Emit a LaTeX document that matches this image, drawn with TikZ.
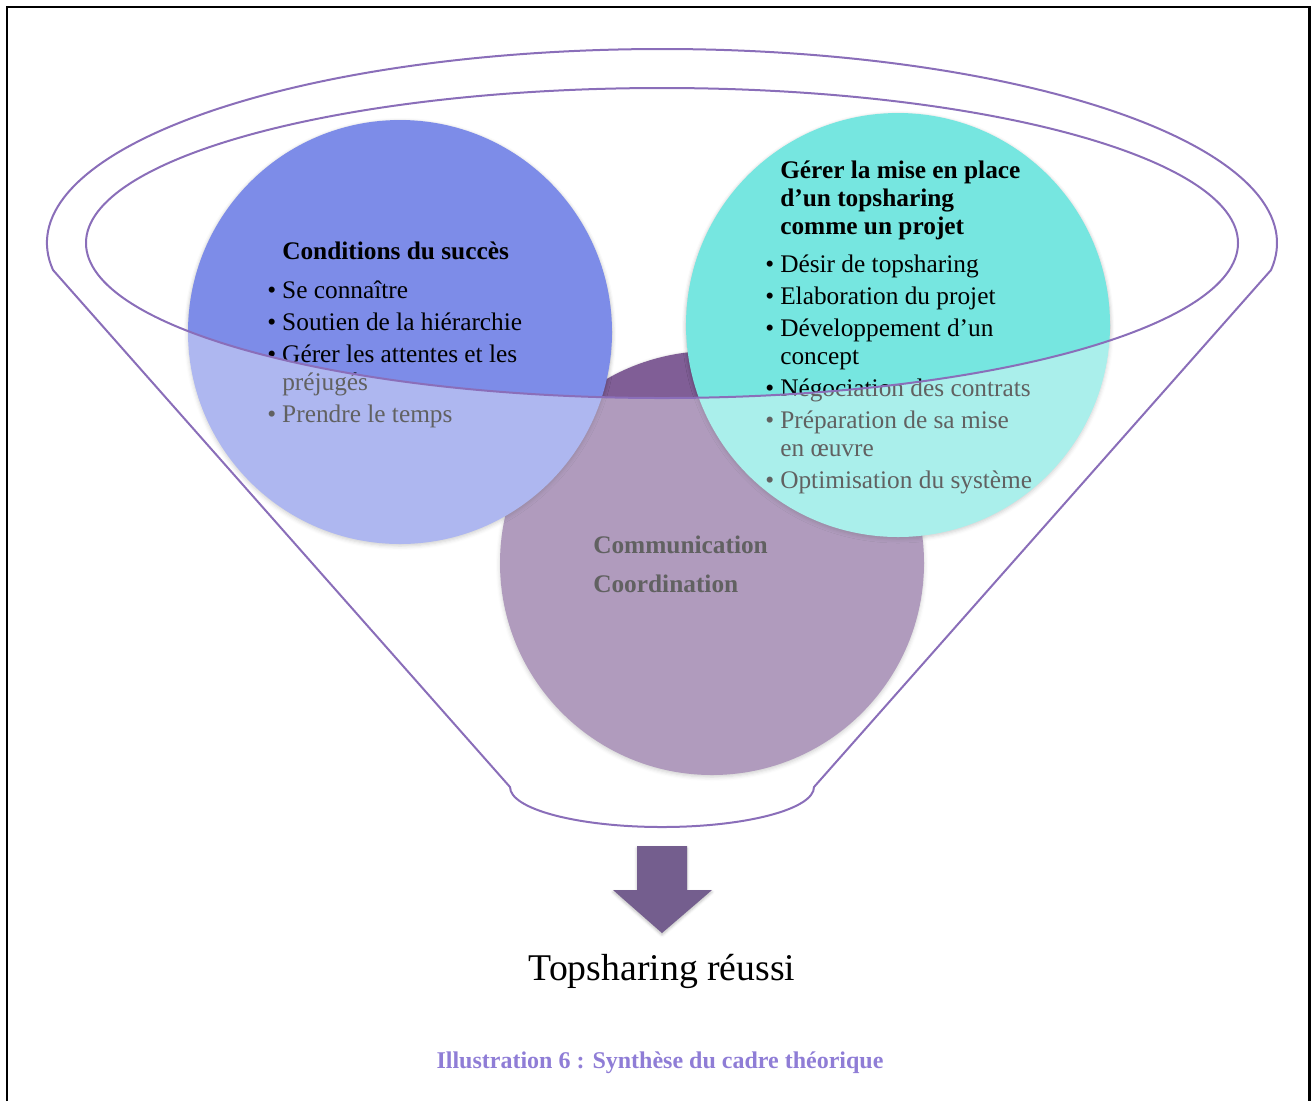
\documentclass[tikz,border=0pt]{standalone}
\usepackage{fontspec}
\setmainfont{Liberation Serif}
\usetikzlibrary{shadows.blur}

\definecolor{succesblue}{RGB}{125,140,232}
\definecolor{projetteal}{RGB}{118,230,224}
\definecolor{commpurple}{RGB}{128,94,150}
\definecolor{rimline}{RGB}{138,110,185}
\definecolor{arrowpurple}{RGB}{116,94,142}
\definecolor{captionlav}{RGB}{143,125,214}

\newcommand{\puce}{\llap{\textbullet\hspace{4.5pt}}}

\begin{document}
\begin{tikzpicture}[x=0.75pt, y=-0.75pt,
  bubble/.style={blur shadow={shadow xshift=0pt, shadow yshift=-1.5pt,
      shadow blur radius=3pt, shadow opacity=30}},
  circtext/.style={font=\fontsize{19}{21}\selectfont, inner sep=0pt, anchor=base west},
  funnel outline/.style={insert path={(53,270)
      arc[start angle=172, end angle=368, x radius=615, y radius=194]
      -- (814,787) arc[start angle=0, end angle=180, x radius=152, y radius=40]
      -- cycle}},
  rim/.style={insert path={(662,243) ellipse[x radius=576, y radius=155]}},
  funnel line/.style={draw=rimline, line width=1.5pt}]
\useasboundingbox (0,0) rectangle (1312,1101);

% frame
\draw[line width=1.9pt] (7,1101) -- (7,7) -- (1309.5,7) -- (1309.5,1101);

% the three circles
\fill[commpurple, bubble] (712,563) circle[radius=212];
\fill[succesblue, bubble] (400,332) circle[radius=212];
\fill[projetteal, bubble] (898,325) circle[radius=212];

\node[circtext] (succes) at (282,259) {\begin{tabular}[t]{@{}l@{}}
  \textbf{Conditions du succès}\\[8.25pt]
  \puce Se connaître\\[3pt]
  \puce Soutien de la hiérarchie\\[3pt]
  \puce Gérer les attentes et les\\
  préjugés\\[3pt]
  \puce Prendre le temps
\end{tabular}};

\node[circtext] (projet) at (780,178) {\begin{tabular}[t]{@{}l@{}}
  \textbf{Gérer la mise en place}\\
  \textbf{d’un topsharing}\\
  \textbf{comme un projet}\\[7.5pt]
  \puce Désir de topsharing\\[3pt]
  \puce Elaboration du projet\\[3pt]
  \puce Développement d’un\\
  concept\\[3pt]
  \puce Négociation des contrats\\[3pt]
  \puce Préparation de sa mise\\
  en œuvre\\[3pt]
  \puce Optimisation du système
\end{tabular}};

\node[circtext] (comm) at (593,553) {\begin{tabular}[t]{@{}l@{}}
  \textbf{Communication}\\[8.25pt]
  \textbf{Coordination}
\end{tabular}};

% funnel body fades what lies under it
\fill[white, fill opacity=0.38, even odd rule, funnel outline, rim];
\path[funnel line, funnel outline];
\path[funnel line, rim];

% arrow and result
\fill[arrowpurple, blur shadow={shadow xshift=0pt, shadow yshift=-1.5pt,
    shadow blur radius=2pt, shadow opacity=25}]
  (637,846) -- (687,846) -- (687,890) -- (712,890) -- (662,933)
  -- (613,890) -- (637,890) -- cycle;

\node[font=\fontsize{28.3}{34}\selectfont, inner sep=0pt, anchor=base] (result) at (662,980) {Topsharing réussi};

\node[font=\fontsize{18}{22}\selectfont\bfseries, text=captionlav, inner sep=0pt, anchor=base] (caption) at (660,1068) {Illustration 6 : Synthèse du cadre théorique};
\end{tikzpicture}
\end{document}
